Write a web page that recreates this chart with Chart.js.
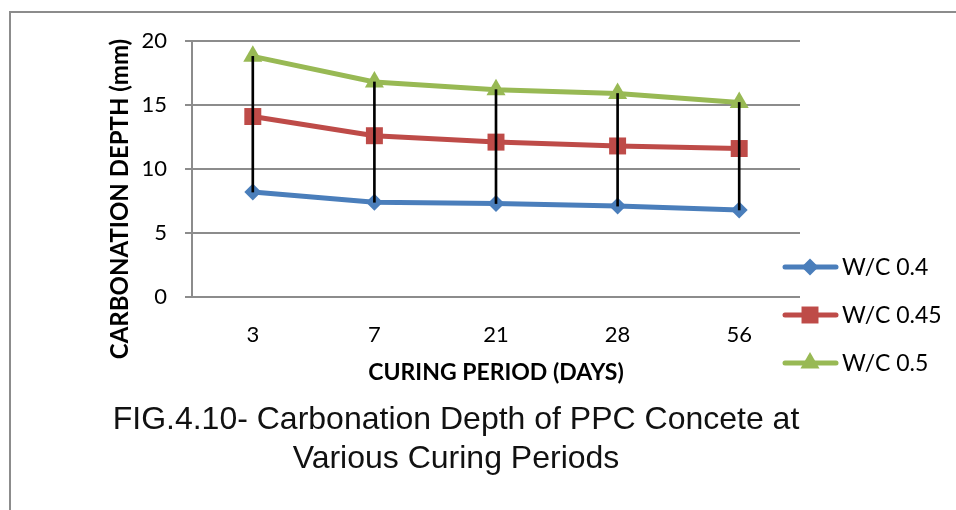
<!DOCTYPE html>
<html>
<head>
<meta charset="utf-8">
<style>
  html, body { margin: 0; padding: 0; background: #fff; }
  #wrap { position: relative; width: 956px; height: 510px; overflow: hidden; }
  #frame { position: absolute; left: 9px; top: 11px; right: -5px; bottom: -5px;
           border-top: 2px solid #8c8c8c; border-left: 2px solid #8c8c8c; }
  #chart { position: absolute; left: 0; top: 0; }
  #caption { position: absolute; left: 0; top: 399px; width: 912px; text-align: center;
             font-family: "Liberation Sans", Arial, sans-serif; font-size: 32px;
             line-height: 39px; color: #111; }
</style>
</head>
<body>
<div id="wrap">
  <div id="frame"></div>
  <canvas id="chart" width="956" height="510"></canvas>
  <div id="caption">FIG.4.10- Carbonation Depth of PPC Concete at<br>Various Curing Periods</div>
</div>
<script src="https://cdn.jsdelivr.net/npm/chart.js"></script>
<script>
    // values (mm)
    var curingDays = ['3', '7', '21', '28', '56'];
    var wc040 = [8.2, 7.4, 7.3, 7.1, 6.8];
    var wc045 = [14.1, 12.6, 12.1, 11.8, 11.6];
    var wc050 = [18.8, 16.8, 16.2, 15.9, 15.2];
    var seriesNames = ['W/C 0.4', 'W/C 0.45', 'W/C 0.5'];
    var yTicks = [0, 5, 10, 15, 20];

    var font = 'Lato, "Open Sans", sans-serif';
    var gridGray = '#8c8c8c';

    // high-low lines: lowest to highest value at each curing period
    var hiLow = curingDays.map(function (d, i) {
        return [Math.min(wc040[i], wc045[i], wc050[i]), Math.max(wc040[i], wc045[i], wc050[i])];
    });

    // legend drawn at the right like the Excel one (line + marker)
    var sideLegend = {
        id: 'sideLegend',
        afterDraw: function (chart) {
            var ctx = chart.ctx;
            var rowY = [267, 315, 363];
            var row = 0;
            chart.data.datasets.forEach(function (ds) {
                if (ds.type !== 'line') return;
                var y = rowY[row++];
                ctx.save();
                ctx.strokeStyle = ds.borderColor;
                ctx.lineWidth = ds.borderWidth;
                ctx.lineCap = 'round';
                ctx.beginPath();
                ctx.moveTo(785, y);
                ctx.lineTo(836, y);
                ctx.stroke();
                ctx.fillStyle = ds.pointBackgroundColor;
                Chart.helpers.drawPoint(ctx, {
                    pointStyle: ds.pointStyle, radius: ds.pointRadius, rotation: 0, borderWidth: 0
                }, 810, y);
                ctx.fillStyle = '#000';
                ctx.font = '23px ' + font;
                ctx.textBaseline = 'middle';
                ctx.fillText(ds.label, 842, y + 1);
                ctx.restore();
            });

            // y axis title, sits a bit lower than the plot centre in the original
            ctx.save();
            ctx.translate(120, 199);
            ctx.rotate(-Math.PI / 2);
            ctx.font = 'bold 24px ' + font;
            ctx.fillStyle = '#000';
            ctx.textAlign = 'center';
            ctx.textBaseline = 'middle';
            ctx.fillText('CARBONATION DEPTH (mm)', 0, 0);
            ctx.restore();
        }
    };

    function lineSet(label, values, color, style, radius) {
        return {
            type: 'line',
            label: label,
            data: values,
            borderColor: color,
            backgroundColor: color,
            pointBackgroundColor: color,
            pointBorderWidth: 0,
            borderWidth: 5,
            pointStyle: style,
            pointRadius: radius,
            tension: 0,
            order: 1
        };
    }

    new Chart(document.getElementById('chart'), {
        type: 'line',
        data: {
            labels: curingDays,
            datasets: [
                lineSet(seriesNames[0], wc040, '#4a7ebb', 'rectRot', 8.5),
                lineSet(seriesNames[1], wc045, '#be4b48', 'rect', 12),
                lineSet(seriesNames[2], wc050, '#98b954', 'triangle', 11),
                {
                    type: 'bar',
                    label: 'high-low',
                    data: hiLow,
                    backgroundColor: '#000',
                    barThickness: 2,
                    order: 0
                }
            ]
        },
        options: {
            responsive: false,
            animation: false,
            layout: { padding: { left: 0, top: 41, right: 156, bottom: 124 } },
            plugins: {
                legend: { display: false },
                tooltip: { enabled: false }
            },
            scales: {
                x: {
                    offset: true,
                    grid: { display: false, offset: true },
                    border: { display: false },
                    ticks: { color: '#000', padding: 17, font: { family: font, size: 22 } },
                    title: {
                        display: true,
                        text: 'CURING PERIOD (DAYS)',
                        color: '#000',
                        font: { family: font, size: 23, weight: 'bold' },
                        padding: { top: 0, bottom: 0 }
                    },
                    afterFit: function (s) { s.height = 89; }
                },
                y: {
                    min: 0,
                    max: 20,
                    afterBuildTicks: function (s) {
                        s.ticks = yTicks.map(function (v) { return { value: v }; });
                    },
                    grid: { color: gridGray, lineWidth: 2, tickLength: 7 },
                    border: { display: true, color: gridGray, width: 2 },
                    ticks: { color: '#000', padding: 18, font: { family: font, size: 22 } },
                    afterFit: function (s) { s.width = 192; }
                }
            }
        },
        plugins: [sideLegend]
    });
</script>
</body>
</html>
